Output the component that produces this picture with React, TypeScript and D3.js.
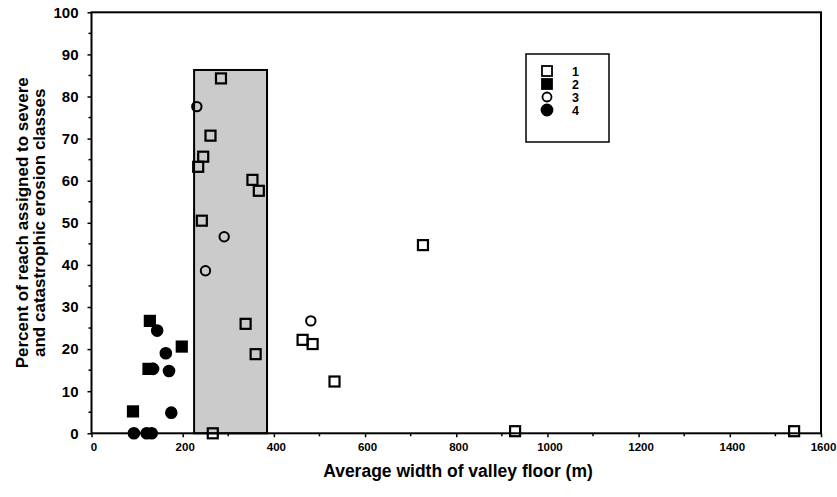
import React, { useEffect, useRef } from 'react';
import * as d3 from 'd3';

// [valley floor width (m), percent of reach in severe/catastrophic classes]
const series1: [number, number][] = [
  [284, 84.3], [261, 70.7], [245, 65.7], [234, 63.3], [353, 60.2], [367, 57.6],
  [242, 50.5], [338, 26.0], [360, 18.8], [266, 0], [463, 22.2], [485, 21.2],
  [533, 12.3], [727, 44.7], [929, 0.5], [1541, 0.5],
];
const series2: [number, number][] = [[128, 26.7], [198, 20.6], [125, 15.3], [91, 5.2]];
const series3: [number, number][] = [[231, 77.6], [291, 46.7], [250, 38.6], [481, 26.7]];
const series4: [number, number][] = [
  [144, 24.4], [163, 19.0], [135, 15.3], [170, 14.8], [175, 4.9], [93, 0], [121, 0], [132, 0],
];

const bandRange = [225, 385];
const bandTop = 86.3;

const xTicks = [0, 200, 400, 600, 800, 1000, 1200, 1400, 1600];
const xMinor = [100, 300, 500, 700, 900, 1100, 1300, 1500];
const yTicks = [0, 10, 20, 30, 40, 50, 60, 70, 80, 90, 100];
const yMinor = [5, 15, 25, 35, 45, 55, 65, 75, 85, 95];
const legendLabels = ['1', '2', '3', '4'];

const W = 837;
const H = 497;
const FONT = '"Liberation Sans", Arial, Helvetica, sans-serif';

export default function App() {
  const ref = useRef<SVGSVGElement>(null);

  useEffect(() => {
    const svg = d3.select(ref.current);
    svg.selectAll('*').remove();

    const x = d3.scaleLinear().domain([0, 1600]).range([91.5, 821]);
    const y = d3.scaleLinear().domain([0, 100]).range([433.3, 12.3]);

    // shaded band
    svg
      .append('rect')
      .attr('x', x(bandRange[0]))
      .attr('y', y(bandTop))
      .attr('width', x(bandRange[1]) - x(bandRange[0]))
      .attr('height', y(0) - y(bandTop))
      .attr('fill', '#cbcbcb')
      .attr('stroke', '#000')
      .attr('stroke-width', 2);

    // frame
    svg
      .append('rect')
      .attr('x', x(0))
      .attr('y', y(100))
      .attr('width', x(1600) - x(0))
      .attr('height', y(0) - y(100))
      .attr('fill', 'none')
      .attr('stroke', '#000')
      .attr('stroke-width', 2);

    // x axis
    const gx = svg.append('g').attr('transform', `translate(0,${y(0)})`);
    gx.call(d3.axisBottom(x).tickValues(xTicks).tickSizeInner(4).tickSizeOuter(0).tickPadding(6).tickFormat(d3.format('d')));
    gx.select('.domain').remove();
    gx.selectAll('line').attr('stroke-width', 1.5);
    gx.selectAll('text')
      .attr('font-family', FONT)
      .attr('font-weight', 'bold')
      .attr('font-size', 11.5)
      .attr('dx', 2);
    gx.selectAll('.minor')
      .data(xMinor)
      .enter()
      .append('line')
      .attr('x1', (d) => x(d))
      .attr('x2', (d) => x(d))
      .attr('y1', 0)
      .attr('y2', 3)
      .attr('stroke', '#000')
      .attr('stroke-width', 1.5);

    // y axis
    const gy = svg.append('g').attr('transform', `translate(${x(0)},0)`);
    gy.call(d3.axisLeft(y).tickValues(yTicks).tickSizeInner(4).tickSizeOuter(0).tickPadding(9));
    gy.select('.domain').remove();
    gy.selectAll('line').attr('stroke-width', 1.5);
    gy.selectAll('text')
      .attr('font-family', FONT)
      .attr('font-weight', 'bold')
      .attr('font-size', 15);
    gy.selectAll('.minor')
      .data(yMinor)
      .enter()
      .append('line')
      .attr('x1', -3)
      .attr('x2', 0)
      .attr('y1', (d) => y(d))
      .attr('y2', (d) => y(d))
      .attr('stroke', '#000')
      .attr('stroke-width', 1.5);

    // axis titles
    svg
      .append('text')
      .attr('x', 458)
      .attr('y', 477)
      .attr('text-anchor', 'middle')
      .attr('font-family', FONT)
      .attr('font-weight', 'bold')
      .attr('font-size', 17.5)
      .text('Average width of valley floor (m)');

    const yTitle = svg
      .append('text')
      .attr('transform', `translate(0,${(y(0) + y(100)) / 2}) rotate(-90)`)
      .attr('text-anchor', 'middle')
      .attr('font-family', FONT)
      .attr('font-weight', 'bold')
      .attr('font-size', 17);
    yTitle.append('tspan').attr('x', 0).attr('y', 28).text('Percent of reach assigned to severe');
    yTitle.append('tspan').attr('x', 0).attr('y', 45).text('and catastrophic erosion classes');

    // markers
    const sq = 10;
    const drawSquares = (data: [number, number][], fill: string) =>
      svg
        .append('g')
        .selectAll('rect')
        .data(data)
        .enter()
        .append('rect')
        .attr('x', (d) => x(d[0]) - sq / 2)
        .attr('y', (d) => y(d[1]) - sq / 2)
        .attr('width', sq)
        .attr('height', sq)
        .attr('fill', fill)
        .attr('stroke', '#000')
        .attr('stroke-width', 2.2);
    const drawCircles = (data: [number, number][], fill: string, r: number) =>
      svg
        .append('g')
        .selectAll('circle')
        .data(data)
        .enter()
        .append('circle')
        .attr('cx', (d) => x(d[0]))
        .attr('cy', (d) => y(d[1]))
        .attr('r', r)
        .attr('fill', fill)
        .attr('stroke', '#000')
        .attr('stroke-width', 2);

    drawSquares(series1, 'none');
    drawSquares(series2, '#000');
    drawCircles(series3, 'none', 4.7);
    drawCircles(series4, '#000', 5.3);

    // legend
    const lg = svg.append('g').attr('transform', 'translate(526,54)');
    lg.append('rect')
      .attr('width', 83)
      .attr('height', 88)
      .attr('fill', '#fff')
      .attr('stroke', '#000')
      .attr('stroke-width', 1.5);
    legendLabels.forEach((label, i) => {
      const cy = 17 + i * 13;
      const row = lg.append('g');
      if (i < 2) {
        row
          .append('rect')
          .attr('x', 21 - 5)
          .attr('y', cy - 5)
          .attr('width', 10)
          .attr('height', 10)
          .attr('fill', i === 0 ? '#fff' : '#000')
          .attr('stroke', '#000')
          .attr('stroke-width', 1.8);
      } else {
        row
          .append('circle')
          .attr('cx', 21)
          .attr('cy', cy)
          .attr('r', i === 2 ? 4.5 : 5.5)
          .attr('fill', i === 2 ? '#fff' : '#000')
          .attr('stroke', '#000')
          .attr('stroke-width', 1.8);
      }
      row
        .append('text')
        .attr('x', 46)
        .attr('y', cy + 4.5)
        .attr('font-family', FONT)
        .attr('font-weight', 'bold')
        .attr('font-size', 12.5)
        .text(label);
    });
  }, []);

  return (
    <svg
      ref={ref}
      width={W}
      height={H}
      style={{ position: 'absolute', left: 0, top: 0, background: '#fff' }}
    />
  );
}
